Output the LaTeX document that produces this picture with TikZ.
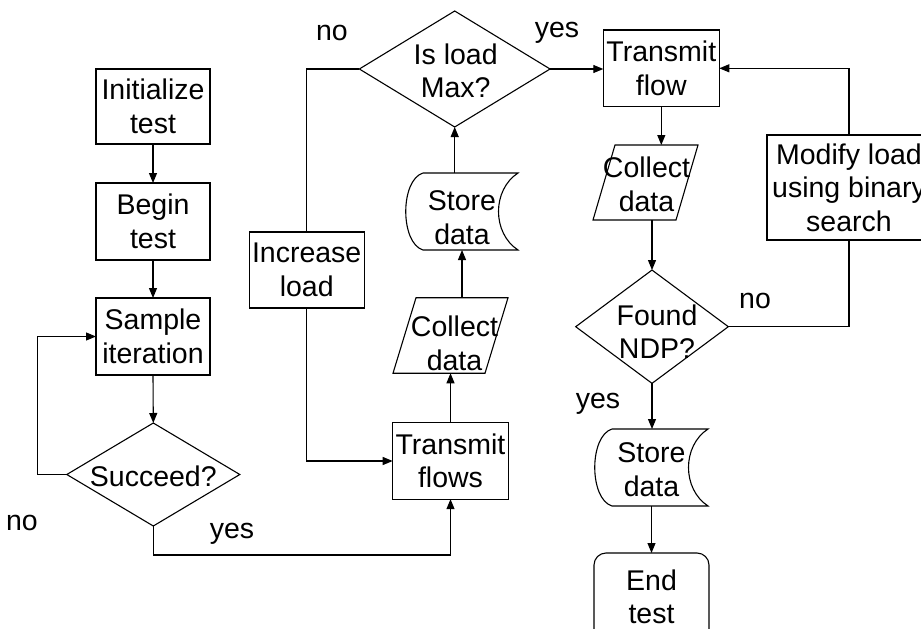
\documentclass[tikz,border=0pt]{standalone}
\usepackage{fontspec}
\setmainfont{Liberation Sans}
\usetikzlibrary{arrows.meta,calc}

% outline helpers: they draw a symbol round an (invisible) frame node
\newcommand\drawslanted[2]{%
  \draw[outline] ($(#1.north west)+(#2,0)$) -- (#1.north east)
    -- ($(#1.south east)+(-#2,0)$) -- (#1.south west) -- cycle;}
\newcommand\drawdiamond[1]{%
  \draw[outline] (#1.west) -- (#1.north) -- (#1.east) -- (#1.south) -- cycle;}
\newcommand\drawstored[1]{%
  \draw[outline] ($(#1.north west)+(17,0)$) -- (#1.north east)
    .. controls ($(#1.north east)+(-26,17)$) and ($(#1.south east)+(-26,-17)$) .. (#1.south east)
    -- ($(#1.south west)+(17,0)$)
    .. controls ($(#1.south west)+(-6,-7)$) and ($(#1.north west)+(-6,7)$) .. ($(#1.north west)+(17,0)$)
    -- cycle;}

\tikzset{
  txt/.style={font=\fontsize{28.5}{33.5}\selectfont, align=center, inner sep=0pt, outer sep=0pt},
  box/.style={txt, draw, line width=1.1pt},
  frame/.style={inner sep=0pt, outer sep=0pt},
  lbl/.style={txt, anchor=base},
  outline/.style={line width=1.1pt},
  link/.style={line width=1.1pt},
  arr/.style={line width=1.1pt, -{Triangle[length=10pt,width=8pt]}},
}

\begin{document}
\begin{tikzpicture}[x=1pt, y=-1pt]
\clip (0,0) rectangle (921,629);
\fill[white] (0,0) rectangle (921,629);

% left column
\node[box, minimum width=114, minimum height=75] (init) at (153,106.5) {Initialize\\test};
\node[box, minimum width=114, minimum height=77] (begin) at (153,221.5) {Begin\\test};
\node[box, minimum width=114, minimum height=77] (sample) at (153,336.5) {Sample\\iteration};
\node[frame, minimum width=173, minimum height=103] (succ) at (153.3,474.5) {};
\drawdiamond{succ}
\node[txt] (succt) at ($(succ)+(0,2)$) {Succeed?};

% middle column
\node[box, minimum width=115, minimum height=76] (incr) at (306.7,270) {Increase\\load};
\node[box, minimum width=115.6, minimum height=76.3] (tfs) at (450.5,461) {Transmit\\flows};
\node[frame, minimum width=115, minimum height=75.5] (cd1) at (450.5,335.5) {};
\drawslanted{cd1}{23}
\node[txt] (cd1t) at ($(cd1)+(4,8)$) {Collect\\data};
\node[frame, minimum width=112, minimum height=77] (sd1) at (462,211.5) {};
\drawstored{sd1}
\node[txt] (sd1t) at ($(sd1)+(0,6)$) {Store\\data};
\node[frame, minimum width=190.7, minimum height=116] (max) at (454.7,69) {};
\drawdiamond{max}
\node[txt] (maxt) at ($(max)+(1,2)$) {Is load\\Max?};

% right column
\node[box, minimum width=116, minimum height=76.7] (tf) at (661.3,68.3) {Transmit\\flow};
\node[frame, minimum width=105, minimum height=75] (cd2) at (645.5,182.5) {};
\drawslanted{cd2}{22}
\node[txt] (cd2t) at ($(cd2)+(1,2)$) {Collect\\data};
\node[frame, minimum width=152.6, minimum height=113.3] (ndp) at (652,326.7) {};
\drawdiamond{ndp}
\node[txt] (ndpt) at ($(ndp)+(5,5)$) {Found\\NDP?};
\node[box, minimum width=164, minimum height=105] (mod) at (849,187.5) {Modify load\\using binary\\search};
\node[frame, minimum width=113, minimum height=77] (sd2) at (651.5,467.5) {};
\drawstored{sd2}
\node[txt] (sd2t) at ($(sd2)+(0,2)$) {Store\\data};
\node[box, rounded corners=12pt, minimum width=115, minimum height=88] (end) at (651.5,597) {End\\test};

% connectors
\draw[arr] (init) -- (begin);
\draw[arr] (begin) -- (sample);
\draw[arr] (sample.south) -- (succ.north);
\draw[arr] (succ.west) -- ++(-29,0) |- (sample.west);
\draw[arr] (succ.south) -- ++(0,29) -| (tfs.south);
\draw[link] (max.west) -| (incr.north);
\draw[arr] (incr.south) |- (tfs.west);
\draw[arr] (max.east) -- (max.east -| tf.west);
\draw[arr] (tfs.north) -- (tfs.north |- cd1.south);
\draw[arr] (cd1.north -| sd1.south) -- (sd1.south);
\draw[arr] (sd1.north -| max.south) -- (max.south);
\draw[arr] (tf.south) -- (tf.south |- cd2.north);
\draw[arr] (cd2.south -| ndp.north) -- (ndp.north);
\draw[link] (ndp.east) -| (mod.south);
\draw[arr] (mod.north) |- (tf.east);
\draw[arr] (ndp.south) -- (ndp.south |- sd2.north);
\draw[arr] (sd2.south) -- (end.north);

% branch labels
\node[lbl] (no1) at (332,40) {no};
\node[lbl] (yes1) at (557,37) {yes};
\node[lbl] (no2) at (755,308) {no};
\node[lbl] (yes2) at (598,408) {yes};
\node[lbl] (no3) at (22,530) {no};
\node[lbl] (yes3) at (232,538) {yes};
\end{tikzpicture}
\end{document}
